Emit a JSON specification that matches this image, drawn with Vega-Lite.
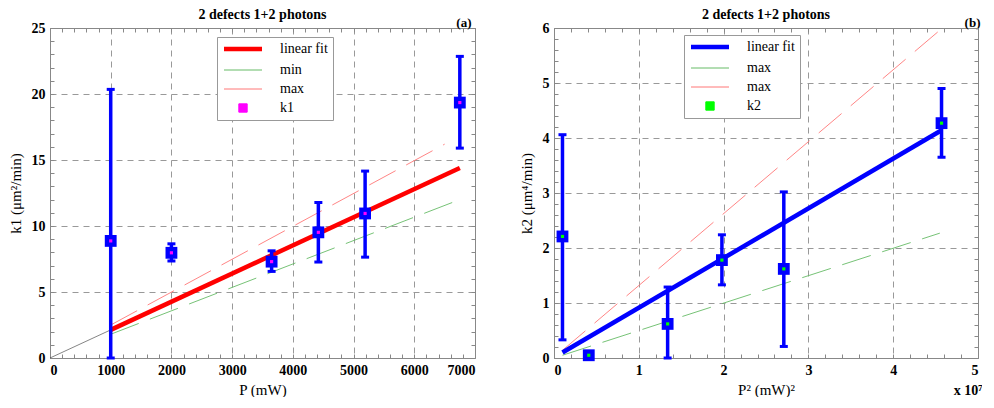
{
  "$schema": "https://vega.github.io/schema/vega-lite/v6.json",
  "padding": {"left": 8, "top": 8, "right": 0, "bottom": 0},
  "background": "white",
  "config": {
    "view": {"stroke": null},
    "axis": {
      "domainColor": "#888", "tickColor": "#888", "tickWidth": 1, "tickSize": -4,
      "labelFont": "Liberation Serif", "labelFontSize": 14, "labelFontWeight": "bold", "labelColor": "black",
      "titleFont": "Liberation Serif", "titleFontSize": 15, "titleFontWeight": "normal", "titleColor": "black",
      "gridColor": "#999", "gridDash": [6, 5], "gridWidth": 1, "labelOverlap": false
    },
    "title": {"font": "Liberation Serif", "fontSize": 14, "fontWeight": "bold", "color": "black", "offset": -6},
    "legend": {"labelFont": "Liberation Serif", "labelFontSize": 14, "labelColor": "black"}
  },
  "spacing": 43,
  "hconcat": [
    {
      "width": 425, "height": 330,
      "title": {"text": "2 defects 1+2 photons"},
      "resolve": {"axis": {"x": "independent", "y": "independent"}},
      "layer": [
        {
          "data": {"values": [{"s": "ext", "x": 0, "y": 0}, {"s": "ext", "x": 1000, "y": 2.13}]},
          "mark": {"type": "line", "color": "#333", "strokeWidth": 0.6},
          "encoding": {
            "x": {"field": "x", "type": "quantitative", "scale": {"domain": [0, 7000], "nice": false},
              "axis": {"orient": "top", "labels": false, "grid": false,
                "title": "(a)", "titleX": 421, "titleY": -2, "titleAlign": "right", "titleBaseline": "alphabetic", "titleAngle": 0,
                "titleFontSize": 13, "titleFontWeight": "bold",
                "values": [0,200,400,600,800,1000,1200,1400,1600,1800,2000,2200,2400,2600,2800,3000,3200,3400,3600,3800,4000,4200,4400,4600,4800,5000,5200,5400,5600,5800,6000,6200,6400,6600,6800,7000]}},
            "y": {"field": "y", "type": "quantitative", "scale": {"domain": [0, 25], "nice": false},
              "axis": {"orient": "right", "labels": false, "title": null, "grid": false,
                "values": [0,1,2,3,4,5,6,7,8,9,10,11,12,13,14,15,16,17,18,19,20,21,22,23,24,25]}}
          }
        },
        {
          "data": {"values": [
            {"s": "min", "x": 1000, "y": 1.8}, {"s": "min", "x": 6750, "y": 12.0},
            {"s": "max", "x": 1000, "y": 2.5}, {"s": "max", "x": 6500, "y": 16.2}
          ]},
          "mark": {"type": "line", "strokeWidth": 0.9, "strokeDash": [30, 12]},
          "encoding": {
            "x": {"field": "x", "type": "quantitative", "axis": null},
            "y": {"field": "y", "type": "quantitative", "axis": null},
            "detail": {"field": "s"},
            "color": {"field": "s", "type": "nominal",
              "scale": {"domain": ["linear fit", "min", "max", "k1"], "range": ["#ff0000", "#66bb66", "#ff7777", "#ff00ff"]},
              "legend": {
                "orient": "none", "legendX": 167, "legendY": 9, "title": null,
                "strokeColor": "#999", "fillColor": "white", "padding": 5,
                "symbolSize": 196, "symbolOffset": 14, "labelOffset": 30, "rowPadding": 5,
                "encode": {"symbols": {"update": {
                  "shape": {"signal": "datum.value === 'k1' ? 'square' : 'stroke'"},
                  "size": {"signal": "datum.value === 'k1' ? 70 : 1444"},
                  "strokeWidth": {"signal": "datum.value === 'linear fit' ? 4.5 : 1"},
                  "fill": {"signal": "datum.value === 'k1' ? '#ff00ff' : 'transparent'"},
                  "stroke": {"signal": "datum.value === 'linear fit' ? '#ff0000' : datum.value === 'min' ? '#a8d8a8' : datum.value === 'max' ? '#ffb0b0' : 'transparent'"},
                  "opacity": {"value": 1}
                }}}
              }}
          }
        },
        {
          "data": {"values": [{"s": "linear fit", "x": 1000, "y": 2.13}, {"s": "linear fit", "x": 6750, "y": 14.4}]},
          "mark": {"type": "line", "strokeWidth": 4.5},
          "encoding": {
            "x": {"field": "x", "type": "quantitative",
              "axis": {"orient": "bottom", "title": "P (mW)", "grid": true,
                "values": [0,200,400,600,800,1000,1200,1400,1600,1800,2000,2200,2400,2600,2800,3000,3200,3400,3600,3800,4000,4200,4400,4600,4800,5000,5200,5400,5600,5800,6000,6200,6400,6600,6800,7000],
                "labelExpr": "datum.value % 1000 === 0 ? format(datum.value, 'd') : ''",
                "gridOpacity": {"condition": {"test": "datum.value % 1000 === 0", "value": 1}, "value": 0},
                "labelPadding": 9, "titlePadding": 5}},
            "y": {"field": "y", "type": "quantitative",
              "axis": {"orient": "left", "title": "k1 (μm²/min)", "grid": true,
                "values": [0,1,2,3,4,5,6,7,8,9,10,11,12,13,14,15,16,17,18,19,20,21,22,23,24,25],
                "labelExpr": "datum.value % 5 === 0 ? format(datum.value, 'd') : ''",
                "gridOpacity": {"condition": {"test": "datum.value % 5 === 0", "value": 1}, "value": 0},
                "labelPadding": 9, "titlePadding": 8}},
            "color": {"field": "s", "type": "nominal"}
          }
        },
        {
          "data": {"values": [
            {"p": 1000, "k": 8.87, "lo": 0, "hi": 20.35},
            {"p": 2000, "k": 7.97, "lo": 7.35, "hi": 8.65},
            {"p": 3650, "k": 7.3, "lo": 6.56, "hi": 8.12},
            {"p": 4420, "k": 9.52, "lo": 7.27, "hi": 11.78},
            {"p": 5190, "k": 10.95, "lo": 7.64, "hi": 14.16},
            {"p": 6750, "k": 19.35, "lo": 15.9, "hi": 22.85}
          ]},
          "layer": [
            {"mark": {"type": "rule", "color": "#0000ff", "strokeWidth": 3.5, "clip": false},
              "encoding": {"x": {"field": "p", "type": "quantitative", "axis": null}, "y": {"field": "lo", "type": "quantitative", "axis": null}, "y2": {"field": "hi"}}},
            {"mark": {"type": "point", "shape": "stroke", "size": 64, "strokeWidth": 3, "color": "#0000ff", "opacity": 1, "clip": false},
              "encoding": {"x": {"field": "p", "type": "quantitative", "axis": null}, "y": {"field": "lo", "type": "quantitative", "axis": null}}},
            {"mark": {"type": "point", "shape": "stroke", "size": 64, "strokeWidth": 3, "color": "#0000ff", "opacity": 1, "clip": false},
              "encoding": {"x": {"field": "p", "type": "quantitative", "axis": null}, "y": {"field": "hi", "type": "quantitative", "axis": null}}},
            {"mark": {"type": "point", "shape": "square", "filled": true, "size": 140, "color": "#0000ff", "opacity": 1, "clip": false},
              "encoding": {"x": {"field": "p", "type": "quantitative", "axis": null}, "y": {"field": "k", "type": "quantitative", "axis": null}}},
            {"mark": {"type": "point", "shape": "square", "filled": true, "size": 10, "opacity": 1, "clip": false},
              "encoding": {"x": {"field": "p", "type": "quantitative", "axis": null}, "y": {"field": "k", "type": "quantitative", "axis": null}, "color": {"datum": "k1", "type": "nominal"}}}
          ]
        },
        {
          "mark": {"type": "rect", "fill": "white", "stroke": "#999", "strokeWidth": 1},
          "encoding": {"x": {"datum": 3064, "type": "quantitative", "axis": null}, "x2": {"datum": 4409}, "y": {"datum": 15.15, "type": "quantitative", "axis": null}, "y2": {"datum": 17.85}}
        },
        {
          "mark": {"type": "text", "text": "R²=0.68", "font": "Liberation Serif", "fontSize": 16, "color": "black", "align": "center", "baseline": "middle"},
          "encoding": {"x": {"datum": 3736, "type": "quantitative", "axis": null}, "y": {"datum": 16.45, "type": "quantitative", "axis": null}}
        }
      ]
    },
    {
      "width": 424, "height": 330,
      "title": {"text": "2 defects 1+2 photons"},
      "resolve": {"axis": {"x": "independent", "y": "independent"}},
      "layer": [
        {
          "data": {"values": [{"s": "lo", "x": 0.1, "y": 0.05}, {"s": "lo", "x": 4.55, "y": 2.27}, {"s": "hi", "x": 0.1, "y": 0.14}, {"s": "hi", "x": 4.55, "y": 5.96}]},
          "mark": {"type": "line", "strokeWidth": 0.9, "strokeDash": [30, 12]},
          "encoding": {
            "x": {"field": "x", "type": "quantitative", "scale": {"domain": [0, 5], "nice": false},
              "axis": {"orient": "top", "labels": false, "grid": false,
                "title": "(b)", "titleX": 426, "titleY": -2, "titleAlign": "right", "titleBaseline": "alphabetic", "titleAngle": 0,
                "titleFontSize": 13, "titleFontWeight": "bold",
                "values": [0,0.2,0.4,0.6,0.8,1,1.2,1.4,1.6,1.8,2,2.2,2.4,2.6,2.8,3,3.2,3.4,3.6,3.8,4,4.2,4.4,4.6,4.8,5]}},
            "y": {"field": "y", "type": "quantitative", "scale": {"domain": [0, 6], "nice": false},
              "axis": {"orient": "right", "labels": false, "grid": false,
                "title": "x 10⁷", "titleX": 4, "titleY": 366, "titleAlign": "right", "titleBaseline": "alphabetic", "titleAngle": 0,
                "titleFontSize": 14, "titleFontWeight": "bold",
                "values": [0,0.2,0.4,0.6,0.8,1,1.2,1.4,1.6,1.8,2,2.2,2.4,2.6,2.8,3,3.2,3.4,3.6,3.8,4,4.2,4.4,4.6,4.8,5,5.2,5.4,5.6,5.8,6]}},
            "detail": {"field": "s"},
            "color": {"field": "s", "type": "nominal",
              "scale": {"domain": ["linear fit", "lo", "hi", "k2"], "range": ["#0000ff", "#66bb66", "#ff7777", "#00ff00"]},
              "legend": {
                "orient": "none", "legendX": 130, "legendY": 7, "title": null,
                "strokeColor": "#999", "fillColor": "white", "padding": 5,
                "symbolSize": 196, "symbolOffset": 14, "labelOffset": 30, "rowPadding": 5,
                "labelExpr": "datum.value === 'lo' || datum.value === 'hi' ? 'max' : datum.value",
                "encode": {"symbols": {"update": {
                  "shape": {"signal": "datum.value === 'k2' ? 'square' : 'stroke'"},
                  "size": {"signal": "datum.value === 'k2' ? 70 : 1444"},
                  "strokeWidth": {"signal": "datum.value === 'linear fit' ? 4.5 : 1"},
                  "fill": {"signal": "datum.value === 'k2' ? '#00ff00' : 'transparent'"},
                  "stroke": {"signal": "datum.value === 'linear fit' ? '#0000ff' : datum.value === 'lo' ? '#a8d8a8' : datum.value === 'hi' ? '#ffb0b0' : 'transparent'"},
                  "opacity": {"value": 1}
                }}}
              }}
          }
        },
        {
          "data": {"values": [{"s": "linear fit", "x": 0.1, "y": 0.1}, {"s": "linear fit", "x": 4.57, "y": 4.14}]},
          "mark": {"type": "line", "strokeWidth": 4.5},
          "encoding": {
            "x": {"field": "x", "type": "quantitative",
              "axis": {"orient": "bottom", "title": "P² (mW)²", "grid": true,
                "values": [0,0.2,0.4,0.6,0.8,1,1.2,1.4,1.6,1.8,2,2.2,2.4,2.6,2.8,3,3.2,3.4,3.6,3.8,4,4.2,4.4,4.6,4.8,5],
                "labelExpr": "abs(datum.value - round(datum.value)) < 0.001 ? format(datum.value, 'd') : ''",
                "gridOpacity": {"condition": {"test": "abs(datum.value - round(datum.value)) < 0.001", "value": 1}, "value": 0},
                "labelPadding": 9, "titlePadding": 5}},
            "y": {"field": "y", "type": "quantitative",
              "axis": {"orient": "left", "title": "k2 (μm⁴/min)", "grid": true,
                "values": [0,0.2,0.4,0.6,0.8,1,1.2,1.4,1.6,1.8,2,2.2,2.4,2.6,2.8,3,3.2,3.4,3.6,3.8,4,4.2,4.4,4.6,4.8,5,5.2,5.4,5.6,5.8,6],
                "labelExpr": "abs(datum.value - round(datum.value)) < 0.001 ? format(datum.value, 'd') : ''",
                "gridOpacity": {"condition": {"test": "abs(datum.value - round(datum.value)) < 0.001", "value": 1}, "value": 0},
                "labelPadding": 9, "titlePadding": 8}},
            "color": {"field": "s", "type": "nominal"}
          }
        },
        {
          "data": {"values": [
            {"p": 0.1, "k": 2.21, "lo": 0.33, "hi": 4.06},
            {"p": 0.41, "k": 0.05, "lo": 0.0, "hi": 0.1},
            {"p": 1.34, "k": 0.62, "lo": 0, "hi": 1.29},
            {"p": 1.98, "k": 1.78, "lo": 1.33, "hi": 2.24},
            {"p": 2.71, "k": 1.62, "lo": 0.21, "hi": 3.02},
            {"p": 4.57, "k": 4.27, "lo": 3.65, "hi": 4.9}
          ]},
          "layer": [
            {"mark": {"type": "rule", "color": "#0000ff", "strokeWidth": 3.5, "clip": false},
              "encoding": {"x": {"field": "p", "type": "quantitative", "axis": null}, "y": {"field": "lo", "type": "quantitative", "axis": null}, "y2": {"field": "hi"}}},
            {"mark": {"type": "point", "shape": "stroke", "size": 64, "strokeWidth": 3, "color": "#0000ff", "opacity": 1, "clip": false},
              "encoding": {"x": {"field": "p", "type": "quantitative", "axis": null}, "y": {"field": "lo", "type": "quantitative", "axis": null}}},
            {"mark": {"type": "point", "shape": "stroke", "size": 64, "strokeWidth": 3, "color": "#0000ff", "opacity": 1, "clip": false},
              "encoding": {"x": {"field": "p", "type": "quantitative", "axis": null}, "y": {"field": "hi", "type": "quantitative", "axis": null}}},
            {"mark": {"type": "point", "shape": "square", "filled": true, "size": 140, "color": "#0000ff", "opacity": 1, "clip": false},
              "encoding": {"x": {"field": "p", "type": "quantitative", "axis": null}, "y": {"field": "k", "type": "quantitative", "axis": null}}},
            {"mark": {"type": "point", "shape": "square", "filled": true, "size": 10, "opacity": 1, "clip": false},
              "encoding": {"x": {"field": "p", "type": "quantitative", "axis": null}, "y": {"field": "k", "type": "quantitative", "axis": null}, "color": {"datum": "k2", "type": "nominal"}}}
          ]
        },
        {
          "mark": {"type": "rect", "fill": "white", "stroke": "#999", "strokeWidth": 1},
          "encoding": {"x": {"datum": 1.695, "type": "quantitative", "axis": null}, "x2": {"datum": 2.56}, "y": {"datum": 3.73, "type": "quantitative", "axis": null}, "y2": {"datum": 4.34}}
        },
        {
          "mark": {"type": "text", "text": "R²=0.8", "font": "Liberation Serif", "fontSize": 16, "color": "black", "align": "center", "baseline": "middle"},
          "encoding": {"x": {"datum": 2.13, "type": "quantitative", "axis": null}, "y": {"datum": 4.03, "type": "quantitative", "axis": null}}
        }
      ]
    }
  ],
  "resolve": {"scale": {"color": "independent"}, "legend": {"color": "independent"}}
}
